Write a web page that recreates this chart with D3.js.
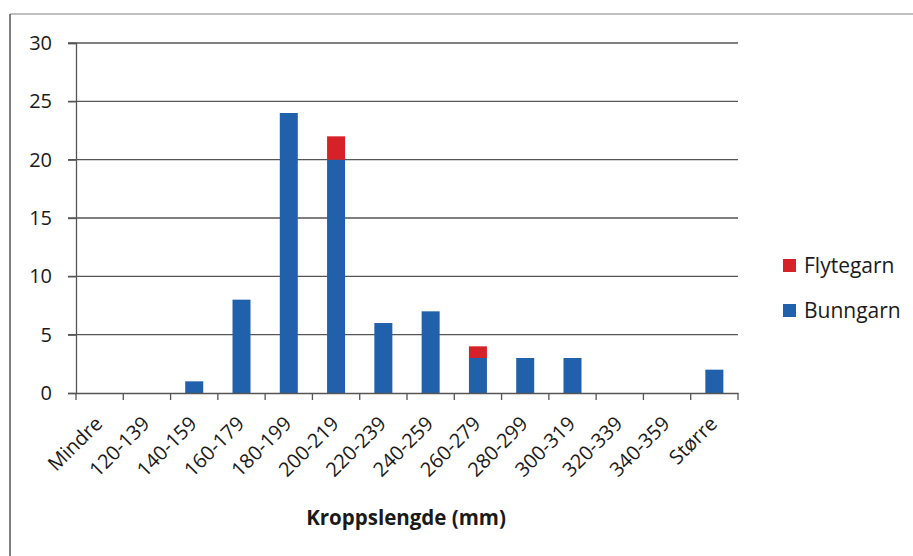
<!DOCTYPE html>
<html><head><meta charset="utf-8">
<script src="https://cdn.jsdelivr.net/npm/d3@7"></script>
<style>body{margin:0;background:#fff}svg{display:block}text{font-family:"Open Sans",sans-serif;fill:#1a1a1a}</style>
</head><body><svg id="c" width="913" height="556"></svg>
<script>
const categories=["Mindre","120-139","140-159","160-179","180-199","200-219","220-239","240-259","260-279","280-299","300-319","320-339","340-359","Større"];
const bunngarn=[0,0,1,8,24,20,6,7,3,3,3,0,0,2];
const flytegarn=[0,0,0,0,0,2,0,0,1,0,0,0,0,0];
const yTicks=[0,5,10,15,20,25,30];
const seriesNames=["Bunngarn","Flytegarn"];
const colors={Bunngarn:"#2160ab",Flytegarn:"#d72128"};

const svg=d3.select("#c");
const m={l:76,r:738,t:43,b:393};
// outer frame
svg.append("line").attr("x1",10).attr("x2",913).attr("y1",14).attr("y2",14).attr("stroke","#aaa").attr("stroke-width",1.5);
svg.append("line").attr("x1",10).attr("x2",10).attr("y1",14).attr("y2",556).attr("stroke","#555").attr("stroke-width",1.5);

const xb=d3.scaleBand().domain(categories).range([m.l,m.r]);
const y=d3.scaleLinear().domain([0,30]).range([m.b,m.t]);

// gridlines
svg.append("g").selectAll("line").data(yTicks.filter(d=>d>0)).join("line")
 .attr("x1",m.l-8).attr("x2",m.r).attr("y1",d=>y(d)).attr("y2",d=>y(d)).attr("stroke","#555").attr("stroke-width",1.3);

// bars
const data=categories.map((c,i)=>({cat:c,Bunngarn:bunngarn[i],Flytegarn:flytegarn[i]}));
const stack=d3.stack().keys(seriesNames)(data);
const bw=18;
svg.append("g").selectAll("g").data(stack).join("g").attr("fill",d=>colors[d.key])
 .selectAll("rect").data(d=>d).join("rect")
 .attr("x",d=>xb(d.data.cat)+xb.bandwidth()/2-bw/2).attr("width",bw)
 .attr("y",d=>y(d[1])).attr("height",d=>y(d[0])-y(d[1]));

// y axis
const ya=svg.append("g").attr("transform",`translate(${m.l},0)`).call(d3.axisLeft(y).tickValues(yTicks).tickSize(8).tickPadding(16));
ya.select(".domain").attr("stroke","#555").attr("stroke-width",1.3);
ya.selectAll(".tick line").attr("stroke","#555").attr("stroke-width",1.3);
ya.selectAll("text").attr("font-size",20).attr("font-family","'Open Sans',sans-serif").attr("fill","#1a1a1a");

// x axis
const xa=svg.append("g").attr("transform",`translate(0,${m.b})`).call(d3.axisBottom(xb).tickSize(0).tickFormat(""));
xa.select(".domain").attr("stroke","#555").attr("stroke-width",1.3);
xa.selectAll(".tick").remove();
const bounds=categories.map(c=>xb(c)).concat([m.r]);
svg.append("g").selectAll("line").data(bounds).join("line")
 .attr("x1",d=>d).attr("x2",d=>d).attr("y1",m.b).attr("y2",m.b+7).attr("stroke","#555").attr("stroke-width",1.3);
svg.append("g").selectAll("text").data(categories).join("text")
 .attr("transform",d=>`translate(${xb(d)+xb.bandwidth()/2+4},${m.b+32}) rotate(-45)`)
 .attr("text-anchor","end").attr("font-size",20).text(d=>d);

svg.append("text").attr("x",406).attr("y",525).attr("text-anchor","middle").attr("font-size",20.5).attr("font-weight","bold").text("Kroppslengde (mm)");

// legend
const leg=[{k:"Flytegarn",y:266},{k:"Bunngarn",y:311}];
const lg=svg.append("g").selectAll("g").data(leg).join("g");
lg.append("rect").attr("x",783).attr("y",d=>d.y-7).attr("width",13).attr("height",13).attr("fill",d=>colors[d.k]);
lg.append("text").attr("x",804).attr("y",d=>d.y).attr("dy","0.35em").attr("font-size",21).text(d=>d.k);
</script></body></html>
